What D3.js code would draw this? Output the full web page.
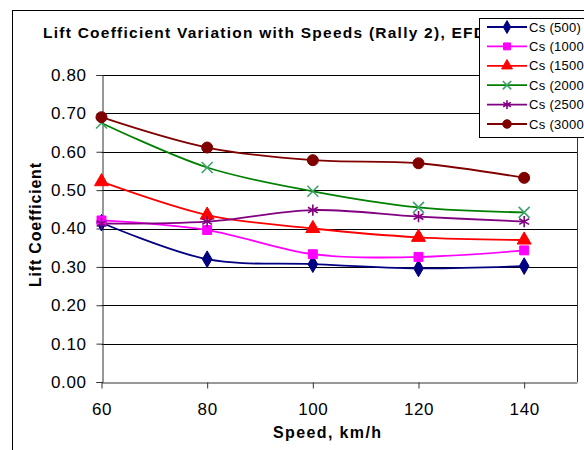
<!DOCTYPE html>
<html><head><meta charset="utf-8">
<script src="https://cdn.jsdelivr.net/npm/d3@7"></script>
<style>body{margin:0;background:#fff}svg{display:block}text{font-family:"Liberation Sans",Arial,sans-serif}</style>
</head><body>
<script>
const speeds = [60, 80, 100, 120, 140];
const cs500  = [0.415, 0.320, 0.307, 0.296, 0.302];
const cs1000 = [0.421, 0.396, 0.333, 0.326, 0.343];
const cs1500 = [0.522, 0.435, 0.400, 0.377, 0.370];
const cs2000 = [0.675, 0.559, 0.497, 0.455, 0.442];
const cs2500 = [0.413, 0.418, 0.448, 0.431, 0.418];
const cs3000 = [0.690, 0.611, 0.578, 0.570, 0.532];
const seriesNames = ["Cs (500)", "Cs (1000)", "Cs (1500)", "Cs (2000)", "Cs (2500)", "Cs (3000)"];
const xTicks = [60, 80, 100, 120, 140];
const yTicks = [0, 0.1, 0.2, 0.3, 0.4, 0.5, 0.6, 0.7, 0.8];

const styles = [
  {line:"#000080", mark:"#000080", sym:d3.symbolDiamond, size:80, fill:true},
  {line:"#FF00FF", mark:"#FF00FF", sym:d3.symbolSquare, size:80, fill:true},
  {line:"#FF0000", mark:"#FF0000", sym:d3.symbolTriangle, size:85, fill:true},
  {line:"#008000", mark:"#3CA36A", sym:d3.symbolX, size:80, fill:false},
  {line:"#800080", mark:"#800080", sym:d3.symbolAsterisk, size:90, fill:false},
  {line:"#800000", mark:"#800000", sym:d3.symbolCircle, size:95, fill:true}
];
const allSeries = [cs500, cs1000, cs1500, cs2000, cs2500, cs3000];

const W = 584, H = 450;
const svg = d3.select("body").append("svg").attr("width", W).attr("height", H);

// outer chart border
svg.append("rect").attr("x", 12.5).attr("y", 10.5).attr("width", 700).attr("height", 600)
  .attr("fill", "#fff").attr("stroke", "#000").attr("stroke-width", 1);

// title
svg.append("text").attr("x", 43).attr("y", 38)
  .attr("font-size", 15.5).attr("font-weight", "bold")
  .attr("textLength", 442).attr("lengthAdjust", "spacing")
  .text("Lift Coefficient Variation with Speeds (Rally 2), EFD");

const x = d3.scaleLinear().domain([60, 150]).range([101.5, 577]);
const y = d3.scaleLinear().domain([0, 0.8]).range([382, 75]);

// gridlines
svg.append("g").selectAll("line").data(yTicks.filter(d => d > 0)).join("line")
  .attr("x1", x(60)).attr("x2", x(150))
  .attr("y1", d => Math.round(y(d)) + 0.5).attr("y2", d => Math.round(y(d)) + 0.5)
  .attr("stroke", "#000").attr("stroke-width", 1);

// right border of plot
svg.append("line").attr("x1", Math.round(x(150)) + 0.5).attr("x2", Math.round(x(150)) + 0.5)
  .attr("y1", y(0.8)).attr("y2", y(0)).attr("stroke", "#333");

// axes
const yAxis = d3.axisLeft(y).tickValues(yTicks).tickFormat(d3.format(".2f")).tickSize(6).tickPadding(10);
const gy = svg.append("g").attr("transform", `translate(${Math.round(x(60)) + 0.5},0)`).call(yAxis);
gy.select(".domain").attr("stroke", "#333");
gy.selectAll(".tick line").attr("stroke", "#333");
gy.selectAll(".tick text").attr("font-size", 17).attr("fill", "#000")
  .style("font-family", '"Liberation Sans",Arial,sans-serif').attr("letter-spacing", 0.6);

const xAxis = d3.axisBottom(x).tickValues(xTicks).tickSize(6).tickPadding(14).tickSizeOuter(0);
const gx = svg.append("g").attr("transform", `translate(0,${Math.round(y(0)) + 0.5})`).call(xAxis);
gx.select(".domain").attr("stroke", "#333");
gx.selectAll(".tick line").attr("stroke", "#333");
gx.selectAll(".tick text").attr("font-size", 17).attr("fill", "#000")
  .style("font-family", '"Liberation Sans",Arial,sans-serif').attr("letter-spacing", 0.6);

// axis titles
svg.append("text").attr("transform", "translate(41,225) rotate(-90)")
  .attr("text-anchor", "middle").attr("font-size", 16).attr("font-weight", "bold")
  .attr("textLength", 124).attr("lengthAdjust", "spacing").text("Lift Coefficient");
svg.append("text").attr("x", 327).attr("y", 438)
  .attr("text-anchor", "middle").attr("font-size", 16).attr("font-weight", "bold")
  .attr("textLength", 108).attr("lengthAdjust", "spacing").text("Speed, km/h");

// lines
const line = d3.line().x((d, i) => x(speeds[i])).y(d => y(d)).curve(d3.curveCatmullRom.alpha(0.5));
const plot = svg.append("g");
allSeries.forEach((s, k) => {
  plot.append("path").datum(s).attr("d", line)
    .attr("fill", "none").attr("stroke", styles[k].line).attr("stroke-width", 1.8);
});
function drawMarker(g, st, cx, cy) {
  g.append("path").attr("d", d3.symbol().type(st.sym).size(st.size)())
    .attr("transform", `translate(${cx},${cy})`)
    .attr("fill", st.fill ? st.mark : "none")
    .attr("stroke", st.mark).attr("stroke-width", st.fill ? 1 : 1.6);
}
allSeries.forEach((s, k) => {
  s.forEach((v, i) => drawMarker(plot, styles[k], x(speeds[i]), y(v)));
});

// legend
const lg = svg.append("g");
lg.append("rect").attr("x", 479.5).attr("y", 18.5).attr("width", 130).attr("height", 119)
  .attr("fill", "#fff").attr("stroke", "#000");
seriesNames.forEach((name, k) => {
  const cy = 27 + k * 19.4;
  lg.append("line").attr("x1", 487).attr("x2", 527).attr("y1", cy).attr("y2", cy)
    .attr("stroke", styles[k].line).attr("stroke-width", 1.8);
  const st = Object.assign({}, styles[k], {size: styles[k].size * 0.6});
  drawMarker(lg, st, 507, cy);
  lg.append("text").attr("x", 529).attr("y", cy + 4.5).attr("font-size", 13)
    .attr("letter-spacing", 0.3).text(name);
});
</script>
</body></html>
